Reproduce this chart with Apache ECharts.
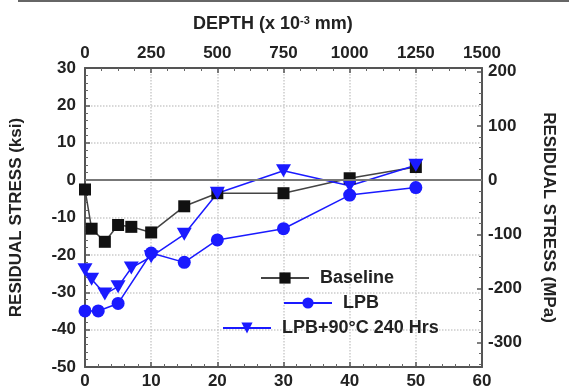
<!DOCTYPE html>
<html>
<head>
<meta charset="utf-8">
<script src="https://cdn.jsdelivr.net/npm/echarts@6/dist/echarts.min.js"></script>
<style>
  html, body { margin: 0; padding: 0; background: #fff; }
  #chart { width: 569px; height: 390px; }
</style>
</head>
<body>
<div id="chart"></div>
<script>
// depth in 10^-3 inch (bottom axis), stress in ksi
var baseDepth = [0, 1, 3, 5, 7, 10, 15, 20, 30, 40, 50];
var baseStress = [-2.5, -13, -16.5, -12, -12.5, -14, -7, -3.5, -3.5, 0.5, 3.5];
var lpbDepth = [0, 2, 5, 10, 15, 20, 30, 40, 50];
var lpbStress = [-35, -35, -33, -19.5, -22, -16, -13, -4, -2];
var hotDepth = [0, 1, 3, 5, 7, 10, 15, 20, 30, 40, 50];
var hotStress = [-24, -26.5, -30.5, -28.5, -23.5, -20.5, -14.5, -3.5, 2.5, -1.5, 4];
var seriesNames = ['Baseline', 'LPB', 'LPB+90°C 240 Hrs'];

var KSI_TO_MPA = 6.89476;
var ksiMin = -50, ksiMax = 30;

function pairs(xs, ys) {
  return xs.map(function (x, i) { return [x, ys[i]]; });
}

var font = 'Liberation Sans, Arial, sans-serif';
var axisColor = '#555';
var blue = '#1a1aff';
var labelStyle = { color: '#222', fontSize: 17, fontWeight: 'bold', fontFamily: font };
var lineAxis = { show: true, onZero: false, lineStyle: { color: axisColor, width: 2 } };
var tick = { show: true, inside: true, length: 5, lineStyle: { color: axisColor, width: 1.5 } };
var minor = { show: true, length: 3, lineStyle: { color: '#666', width: 1 } };
var grid = { show: true, lineStyle: { color: '#ccc', type: 'dotted', width: 1.5 } };

var myChart = echarts.init(document.getElementById('chart'));

var option = {
  animation: false,
  title: {
    text: '{a|DEPTH (x 10}{s|-3}{a| mm)}',
    left: 188,
    top: 10,
    textStyle: {
      rich: {
        a: { fontSize: 18, fontWeight: 'bold', color: '#222', fontFamily: font },
        s: { fontSize: 11, fontWeight: 'bold', color: '#222', fontFamily: font, verticalAlign: 'top', padding: [0, 0, 8, 0] }
      }
    }
  },
  graphic: [{
    type: 'rect',
    shape: { x: 18, y: 0, width: 560, height: 2 },
    style: { fill: '#666' }
  }],
  grid: { left: 85, right: 87, top: 68, bottom: 23 },
  legend: [
    { data: [seriesNames[0]], left: 260, top: 269 },
    { data: [seriesNames[1]], left: 283, top: 294 },
    { data: [seriesNames[2]], left: 222, top: 319 }
  ].map(function (l) {
    l.padding = 0;
    l.itemWidth = 48;
    l.itemHeight = 14;
    l.textStyle = { color: '#222', fontSize: 18, fontWeight: 'bold', fontFamily: font, padding: [0, 0, 0, 6] };
    return l;
  }),
  xAxis: [{
    type: 'value',
    position: 'bottom',
    min: 0, max: 60, interval: 10,
    axisLine: lineAxis,
    axisTick: tick,
    minorTick: Object.assign({ splitNumber: 5 }, minor),
    axisLabel: Object.assign({ margin: 6 }, labelStyle),
    splitLine: grid
  }, {
    type: 'value',
    position: 'top',
    min: 0, max: 1500, interval: 250,
    axisLine: lineAxis,
    axisTick: tick,
    minorTick: Object.assign({ splitNumber: 4 }, minor),
    axisLabel: Object.assign({
      margin: 6,
      formatter: function (v) { return String(v); }
    }, labelStyle),
    splitLine: { show: false }
  }],
  yAxis: [{
    type: 'value',
    position: 'left',
    min: ksiMin, max: ksiMax, interval: 10,
    name: 'RESIDUAL STRESS (ksi)',
    nameLocation: 'middle',
    nameGap: 60,
    nameTextStyle: { color: '#222', fontSize: 17, fontWeight: 'bold', fontFamily: font },
    axisLine: lineAxis,
    axisTick: tick,
    minorTick: Object.assign({ splitNumber: 5 }, minor),
    axisLabel: Object.assign({ margin: 9 }, labelStyle),
    splitLine: grid
  }, {
    type: 'value',
    position: 'right',
    min: ksiMin * KSI_TO_MPA, max: ksiMax * KSI_TO_MPA,
    splitNumber: 5,
    name: 'RESIDUAL STRESS (MPa)',
    nameLocation: 'middle',
    nameGap: 58,
    nameRotate: -90,
    nameTextStyle: { color: '#222', fontSize: 17, fontWeight: 'bold', fontFamily: font },
    axisLine: lineAxis,
    axisTick: tick,
    minorTick: Object.assign({ splitNumber: 5 }, minor),
    axisLabel: Object.assign({
      margin: 6,
      formatter: function (v) {
        return Math.abs(v % 100) < 1e-6 ? String(Math.round(v)) : '';
      }
    }, labelStyle),
    splitLine: { show: false }
  }],
  series: [{
    name: seriesNames[0],
    type: 'line',
    clip: false,
    data: pairs(baseDepth, baseStress),
    symbol: 'rect',
    symbolSize: 12,
    itemStyle: { color: '#111' },
    lineStyle: { color: '#444', width: 1.5 },
    markLine: {
      silent: true,
      symbol: 'none',
      label: { show: false },
      lineStyle: { color: '#777', width: 2, type: 'solid' },
      data: [{ yAxis: 0 }]
    }
  }, {
    name: seriesNames[1],
    type: 'line',
    clip: false,
    data: pairs(lpbDepth, lpbStress),
    symbol: 'circle',
    symbolSize: 13,
    itemStyle: { color: blue },
    lineStyle: { color: blue, width: 1.5 }
  }, {
    name: seriesNames[2],
    type: 'line',
    clip: false,
    data: pairs(hotDepth, hotStress),
    symbol: 'path://M0,0 L10,0 L5,9 Z',
    symbolSize: [15, 13],
    itemStyle: { color: blue },
    lineStyle: { color: blue, width: 1.5 }
  }]
};
myChart.setOption(option);
</script>
</body>
</html>
